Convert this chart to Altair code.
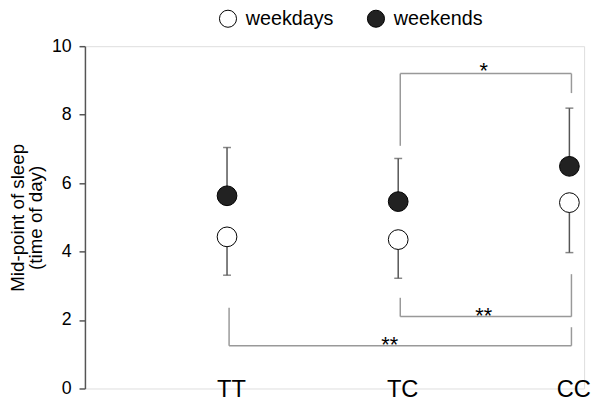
import json
import altair as alt
import pandas as pd

# ---- data ----
groups = ["TT", "TC", "CC"]
weekday_mean = [4.43, 4.35, 5.43]
weekday_low = [3.31, 3.22, 3.97]     # lower end of weekday error bar
weekend_mean = [5.63, 5.46, 6.49]
weekend_high = [7.04, 6.72, 8.19]    # upper end of weekend error bar
periods = ["weekdays", "weekends"]
y_ticks = [0, 2, 4, 6, 8, 10]

# significance brackets
br_left = ["TC", "TC", "TT"]
br_right = ["CC", "CC", "CC"]
br_bar = [9.20, 2.10, 1.25]
br_left_end = [7.09, 2.65, 2.36]
br_right_end = [8.63, 3.34, 1.79]
br_label = ["*", "**", "**"]
br_label_x = [1.5, 1.5, 0.95]   # category-index units
br_label_y = [9.45, 2.29, 1.44]

FONT = "Liberation Sans"
idx = {g: i for i, g in enumerate(groups)}

rows = []
for i, g in enumerate(groups):
    rows.append(dict(group=g, x=i, period=periods[0], mean=weekday_mean[i], end=weekday_low[i]))
    rows.append(dict(group=g, x=i, period=periods[1], mean=weekend_mean[i], end=weekend_high[i]))
pts = pd.DataFrame(rows)

seg = []
for l, r, b, le, re in zip(br_left, br_right, br_bar, br_left_end, br_right_end):
    xl, xr = idx[l] + 0.012, idx[r] + 0.012
    seg.append(dict(x=xl, x2=xl, y=le, y2=b))
    seg.append(dict(x=xl, x2=xr, y=b, y2=b))
    seg.append(dict(x=xr, x2=xr, y=b, y2=re))
segs = pd.DataFrame(seg)

stars = pd.DataFrame(dict(x=br_label_x, y=br_label_y, label=br_label))

label_expr = json.dumps(groups) + "[datum.value]"

xscale = alt.Scale(domain=[-0.83, 2.086], nice=False, zero=False)
yscale = alt.Scale(domain=[0, 10], nice=False, zero=False)

xaxis = alt.Axis(values=[0, 1, 2], labelExpr=label_expr, title=None, domain=False,
                 ticks=False, tickSize=0, grid=False, labelFontSize=24, labelColor="black",
                 labelPadding=8, labelBaseline="alphabetic", labelOffset=4,
                 labelOverlap=False, labelFlush=False, labelFont=FONT)
yaxis = alt.Axis(values=y_ticks, title=["Mid-point of sleep", "(time of day)"], grid=False,
                 domainColor="#555555", domainWidth=1.5, tickColor="#555555", tickWidth=1.5,
                 tickSize=6, labelPadding=8, labelFontSize=18, labelColor="black",
                 titleFontSize=19, titleFontWeight="normal", titleColor="black",
                 titlePadding=6, titleLineHeight=18, labelFont=FONT, titleFont=FONT)

X = alt.X("x:Q", scale=xscale, axis=xaxis)
Y = alt.Y("mean:Q", scale=yscale, axis=yaxis)

err = alt.Chart(pts).mark_rule(color="#555555", strokeWidth=1.5).encode(
    x=X, y=Y, y2="end:Q")
caps = alt.Chart(pts).mark_tick(orient="horizontal", size=8, thickness=1.5, color="#555555").encode(
    x=X, y=alt.Y("end:Q", scale=yscale, axis=yaxis))
brackets = alt.Chart(segs).mark_rule(color="#999999", strokeWidth=1.5).encode(
    x=X, x2="x2:Q", y=alt.Y("y:Q", scale=yscale, axis=yaxis), y2="y2:Q")
points = alt.Chart(pts).mark_point(filled=True, shape="circle", size=400, stroke="black",
                                   strokeWidth=1, opacity=1).encode(
    x=X, y=Y,
    fill=alt.Fill("period:N", scale=alt.Scale(domain=periods, range=["white", "#222222"]),
                  legend=alt.Legend(orient="none", legendX=135, legendY=-38, direction="horizontal",
                                    title=None, labelFontSize=20, labelColor="black", labelFont=FONT,
                                    symbolSize=300, symbolType="circle", symbolStrokeColor="black",
                                    symbolStrokeWidth=1, symbolOpacity=1, labelOffset=8,
                                    columnPadding=32, padding=0)))
star_text = alt.Chart(stars).mark_text(fontSize=22, baseline="alphabetic", dy=12.8,
                                       color="black", font=FONT).encode(
    x=X, y=alt.Y("y:Q", scale=yscale, axis=yaxis), text="label:N")

chart = alt.layer(err, caps, brackets, points, star_text).properties(
    width=506, height=347,
    padding={"left": 78, "top": 36, "right": 8, "bottom": 13},
    autosize=alt.AutoSizeParams(type="none"),
).configure_view(stroke=None).configure(font=FONT)

chart.save("out.html", embed_options={"renderer": "svg", "actions": False})
